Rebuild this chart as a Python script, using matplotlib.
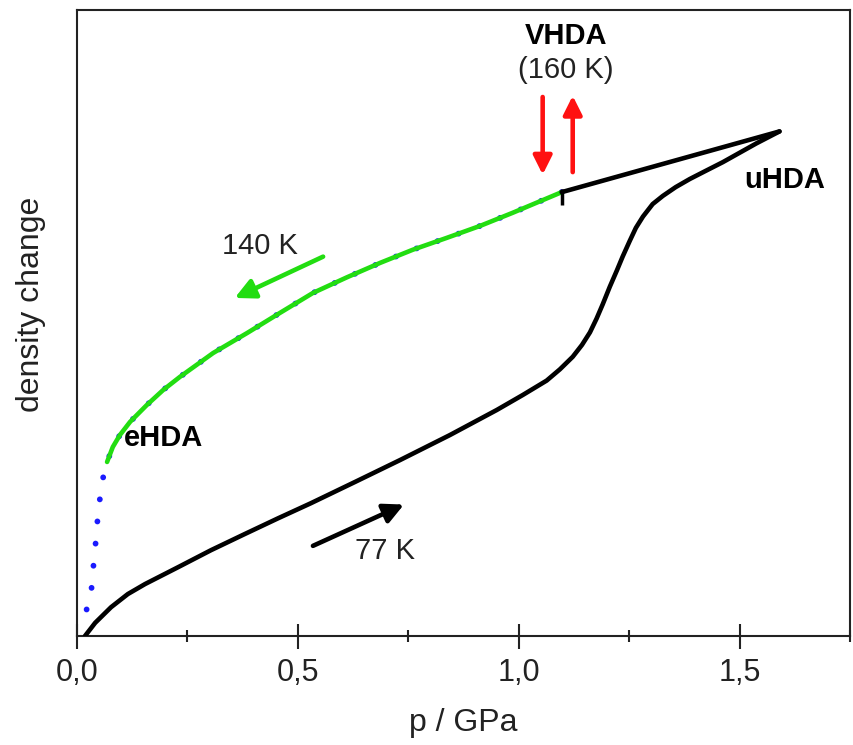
import matplotlib

matplotlib.use("Agg")
import matplotlib.pyplot as plt  # noqa: E402
from matplotlib.ticker import FixedLocator, FuncFormatter  # noqa: E402

plt.rcParams["font.family"] = ["Liberation Sans", "DejaVu Sans"]

# compression at 77 K (p in GPa, density change in arbitrary units)
p_77 = [0.018, 0.041, 0.077, 0.115, 0.154, 0.229, 0.303, 0.380, 0.455, 0.529,
        0.629, 0.731, 0.844, 0.950, 1.009, 1.063, 1.093, 1.122, 1.143, 1.161,
        1.176, 1.190, 1.206, 1.222, 1.235, 1.251, 1.265, 1.281, 1.303, 1.326,
        1.355, 1.387, 1.423, 1.462, 1.500, 1.538, 1.590]
rho_77 = [0.000, 0.021, 0.046, 0.067, 0.083, 0.110, 0.137, 0.163, 0.188, 0.212,
          0.246, 0.281, 0.321, 0.361, 0.385, 0.408, 0.426, 0.446, 0.465, 0.485,
          0.507, 0.530, 0.558, 0.584, 0.606, 0.631, 0.652, 0.670, 0.690, 0.703,
          0.717, 0.730, 0.743, 0.757, 0.772, 0.787, 0.806]

# decompression at 160 K (uHDA -> VHDA)
p_160 = [1.590, 1.097]
rho_160 = [0.806, 0.709]

# decompression at 140 K (VHDA -> eHDA)
p_140 = [1.097, 0.986, 0.912, 0.837, 0.760, 0.686, 0.611, 0.534, 0.459, 0.385,
         0.308, 0.233, 0.195, 0.158, 0.120, 0.097, 0.081, 0.068]
rho_140 = [0.709, 0.676, 0.655, 0.636, 0.617, 0.596, 0.573, 0.548, 0.516, 0.484,
           0.452, 0.414, 0.393, 0.369, 0.342, 0.321, 0.302, 0.278]

# dotted continuation below eHDA
p_dot = [0.068, 0.061, 0.057, 0.050, 0.045, 0.041, 0.036, 0.032, 0.020]
rho_dot = [0.278, 0.262, 0.243, 0.211, 0.175, 0.139, 0.104, 0.069, 0.038]

major_ticks = [0.0, 0.5, 1.0, 1.5]
minor_ticks = [0.25, 0.75, 1.25, 1.75]

fig = plt.figure(figsize=(8.54, 7.45), dpi=100)
ax = fig.add_axes([0.0902, 0.1463, 0.9053, 0.8403])

lw = 3.3
ax.plot(p_140 + p_dot[1:], rho_140 + rho_dot[1:], color="#1a1aff", lw=4.2,
        linestyle=(0, (0.01, 3.8)), dash_capstyle="round", zorder=2)
ax.plot(p_140, rho_140, color="#22dd11", lw=lw, solid_capstyle="round",
        solid_joinstyle="round", zorder=3)
ax.plot(p_77, rho_77, color="black", lw=lw, solid_capstyle="round",
        solid_joinstyle="round", zorder=3)
ax.plot(p_160, rho_160, color="black", lw=lw, solid_capstyle="round", zorder=3)
ax.plot([p_160[1]], [rho_160[1] - 0.008], marker="|", color="black", ms=11, mew=2.5, zorder=4)

black_arrow = dict(arrowstyle="-|>", color="black", lw=lw, mutation_scale=30,
                   shrinkA=0, shrinkB=0)
green_arrow = dict(black_arrow, color="#22dd11")
red_arrow = dict(black_arrow, color="#ff1111", mutation_scale=28)
ax.annotate("", xy=(0.740, 0.210), xytext=(0.534, 0.144), arrowprops=black_arrow)
ax.annotate("", xy=(0.357, 0.540), xytext=(0.557, 0.606), arrowprops=green_arrow)
ax.annotate("", xy=(1.054, 0.737), xytext=(1.054, 0.861), arrowprops=red_arrow)
ax.annotate("", xy=(1.122, 0.863), xytext=(1.122, 0.741), arrowprops=red_arrow)

fs = 21
ax.text(1.106, 0.958, "VHDA", fontsize=fs, fontweight="bold", ha="center", va="center")
ax.text(1.106, 0.904, "(160 K)", fontsize=fs, ha="center", va="center", color="#222222")
ax.text(1.602, 0.728, "uHDA", fontsize=fs, fontweight="bold", ha="center", va="center")
ax.text(0.414, 0.623, "140 K", fontsize=fs, ha="center", va="center", color="#222222")
ax.text(0.195, 0.316, "eHDA", fontsize=fs, fontweight="bold", ha="center", va="center")
ax.text(0.697, 0.136, "77 K", fontsize=fs, ha="center", va="center", color="#222222")

ax.set_xlim(0, 1.75)
ax.set_ylim(0, 1.0)
ax.xaxis.set_major_locator(FixedLocator(major_ticks))
ax.xaxis.set_minor_locator(FixedLocator(minor_ticks))
ax.xaxis.set_major_formatter(FuncFormatter(lambda v, _: f"{v:.1f}".replace(".", ",")))
ax.tick_params(axis="x", which="major", direction="inout", length=18, width=1.5,
               labelsize=22, pad=7, colors="#222222")
ax.tick_params(axis="x", which="minor", direction="inout", length=9, width=1.5,
               colors="#222222")
ax.set_yticks([])
for s in ax.spines.values():
    s.set_linewidth(1.5)
    s.set_color("#222222")

ax.set_xlabel("p / GPa", fontsize=23, color="#222222", labelpad=14)
ax.set_ylabel("density change", fontsize=23, color="#222222")
ax.yaxis.set_label_coords(-0.040, 0.53)

plt.savefig("out.png", dpi=100)
plt.close(fig)
